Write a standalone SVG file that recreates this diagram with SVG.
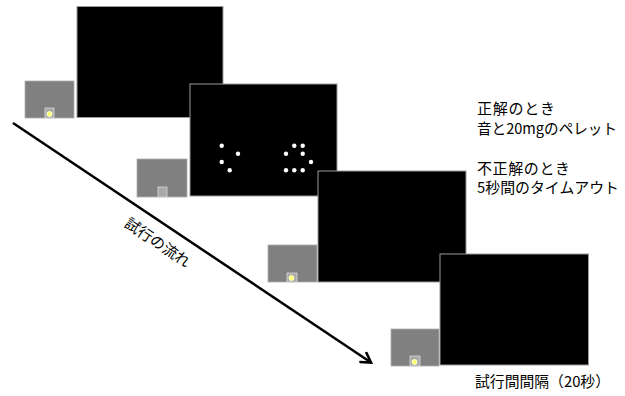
<svg xmlns="http://www.w3.org/2000/svg" width="625" height="396" viewBox="0 0 625 396">
<style>
.scr{fill:#000;stroke:#9a9a9a;stroke-width:1}
.box{fill:#808080;stroke:#b0b0b0;stroke-width:0.8}
.sq{fill:#a9a9a9;stroke:#d8d8d8;stroke-width:0.8}
.lamp{fill:#ffff70;stroke:#ffffcc;stroke-width:1}
.dot{fill:#fff}
.t{font-family:"Noto Sans CJK JP","Noto Sans CJK SC",sans-serif;font-size:15px;fill:#000}
</style>
<defs>
<marker id="ah" markerWidth="14" markerHeight="14" refX="11" refY="7" orient="auto" markerUnits="userSpaceOnUse">
<path d="M1,1 L11,7 L1,13" fill="none" stroke="#000" stroke-width="2.6" stroke-linejoin="miter"/>
</marker>
</defs>
<rect width="625" height="396" fill="#fff"/>
<g id="connectors">
<line x1="13" y1="123" x2="371" y2="362.5" stroke="#000" stroke-width="2.5" marker-end="url(#ah)"/>
</g>
<g id="flow-label">
<text class="t" x="158" y="248" text-anchor="middle" font-size="16" transform="rotate(33.8 158 242)">試行の流れ</text>
</g>
<g id="trial1">
<rect class="box" x="25" y="81" width="49" height="37"/>
<rect class="sq" x="45" y="108" width="9" height="10"/>
<circle class="lamp" cx="49.5" cy="114" r="2.5"/>
<rect class="scr" x="77" y="6.5" width="146" height="111"/>
</g>
<g id="trial2">
<rect class="box" x="137" y="159" width="50" height="38"/>
<rect class="sq" x="158" y="187" width="9" height="10"/>
<rect class="scr" x="190" y="84" width="147" height="112"/>
<circle class="dot" cx="221.7" cy="145.7" r="2.2"/>
<circle class="dot" cx="238" cy="153.7" r="2.2"/>
<circle class="dot" cx="221.7" cy="162" r="2.2"/>
<circle class="dot" cx="229.7" cy="170.3" r="2.2"/>
<circle class="dot" cx="294.3" cy="145.7" r="2.2"/>
<circle class="dot" cx="302.7" cy="145.7" r="2.2"/>
<circle class="dot" cx="286" cy="153.7" r="2.2"/>
<circle class="dot" cx="302.7" cy="153.7" r="2.2"/>
<circle class="dot" cx="311" cy="162" r="2.2"/>
<circle class="dot" cx="286" cy="170.3" r="2.2"/>
<circle class="dot" cx="294.3" cy="170.3" r="2.2"/>
<circle class="dot" cx="302.7" cy="170.3" r="2.2"/>
</g>
<g id="trial3">
<rect class="box" x="268" y="245" width="49" height="37"/>
<rect class="sq" x="287" y="273" width="10" height="9"/>
<circle class="lamp" cx="291.5" cy="278" r="2.5"/>
<rect class="scr" x="318" y="171" width="148" height="111"/>
</g>
<g id="trial4">
<rect class="box" x="391" y="329" width="48" height="37"/>
<rect class="sq" x="410" y="356" width="10" height="10"/>
<circle class="lamp" cx="414.5" cy="362" r="2.5"/>
<rect class="scr" x="440" y="254" width="148.5" height="111"/>
</g>
<g id="notes">
<text class="t" x="477" y="114" textLength="78">正解のとき</text>
<text class="t" x="477" y="134" textLength="140" lengthAdjust="spacingAndGlyphs">音と20mgのペレット</text>
<text class="t" x="477" y="174" textLength="93">不正解のとき</text>
<text class="t" x="477" y="193" textLength="142" lengthAdjust="spacingAndGlyphs">5秒間のタイムアウト</text>
</g>
<g id="iti-label">
<text class="t" x="475" y="387" font-size="16" textLength="135" lengthAdjust="spacingAndGlyphs">試行間間隔（20秒）</text>
</g>
</svg>
